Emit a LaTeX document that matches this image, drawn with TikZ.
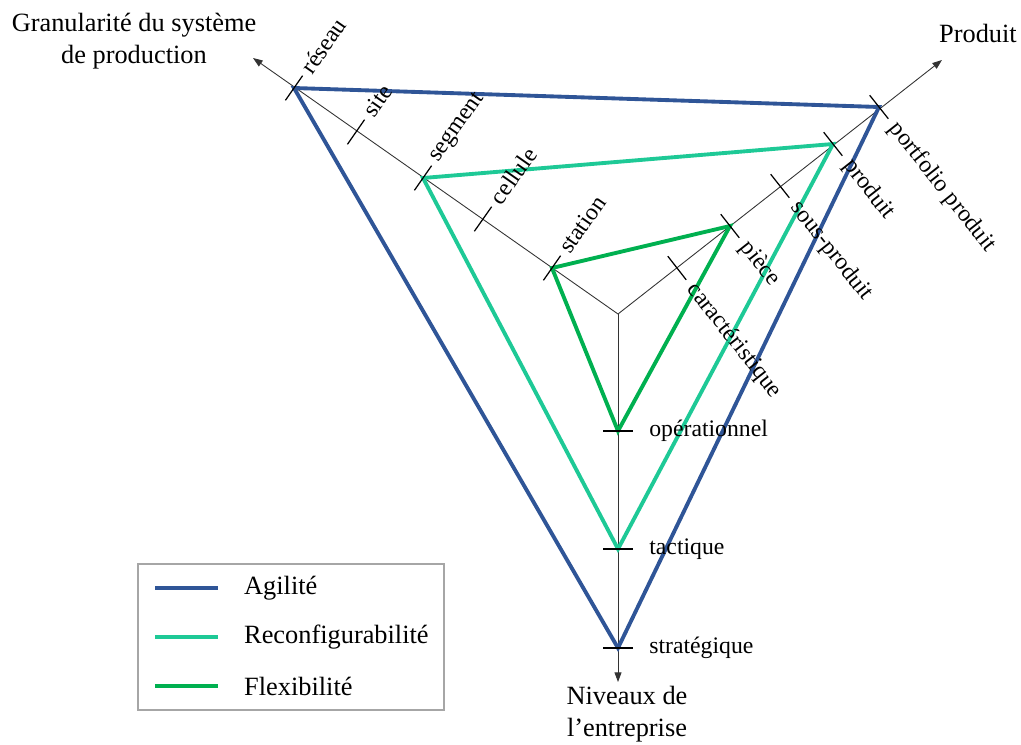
\documentclass[tikz,border=0pt]{standalone}
\usepackage{fontspec}
\setmainfont{Liberation Serif}
\usetikzlibrary{arrows.meta,calc}

\definecolor{agile}{RGB}{47,85,151}
\definecolor{reconf}{RGB}{30,201,150}
\definecolor{flex}{RGB}{0,176,80}

\tikzset{
	axe/.style={draw=black!80, line width=0.5pt, -{Triangle[length=5.5pt,width=4pt]}},
	graduation/.style={line width=0.7pt},
	niveau/.style={font=\fontsize{13.5}{16}\selectfont, inner sep=0pt},
	titre/.style={font=\fontsize{15}{18}\selectfont, align=center},
	profil/.style={line width=2.2pt},
}

\begin{document}
\begin{tikzpicture}[x=0.02cm, y=-0.02cm]
		\useasboundingbox (0,0) rectangle (1021,744);
		\coordinate (O) at (618,314);
		
		% axes
		\coordinate (granu) at (253,58);
		\coordinate (prod) at (942,60);
		\coordinate (niv) at (618,682);
		\draw[axe] (O) -- (granu);
		\draw[axe] (O) -- (prod);
		\draw[axe] (O) -- (niv);
		
		% graduations
		\coordinate (reseau) at (294,88);
		\coordinate (site) at (356,132);
		\coordinate (segment) at (423,178);
		\coordinate (cellule) at (483,219);
		\coordinate (station) at (552,268);
		\coordinate (portfolio) at (879,107);
		\coordinate (produit) at (833,144);
		\coordinate (sousproduit) at (780,186);
		\coordinate (piece) at (730,226);
		\coordinate (caract) at (677,268);
		\coordinate (operationnel) at (618,431);
		\coordinate (tactique) at (618,549);
		\coordinate (strategique) at (618,648);
		
		% profils
		\draw[profil, agile] (reseau) -- (portfolio) -- (strategique) -- cycle;
		\draw[profil, reconf] (segment) -- (produit) -- (tactique) -- cycle;
		\draw[profil, flex] (station) -- (piece) -- (operationnel) -- cycle;
		
		\foreach \t in {reseau,site,segment,cellule,station,portfolio,produit,sousproduit,piece,caract,operationnel,tactique,strategique}
			\draw[graduation] ($(\t)!0.3cm!90:(O)$) -- ($(\t)!0.3cm!-90:(O)$);
		
		\foreach \t/\txt in {reseau/réseau, site/site, segment/segment, cellule/cellule, station/station}
			\node[niveau, rotate=55, anchor=west] (l-\t) at ($(\t)!0.42cm!90:(O)$) {\txt};
		\foreach \t/\txt in {portfolio/portfolio produit, produit/produit, sousproduit/sous-produit, piece/pièce, caract/caractéristique}
			\node[niveau, rotate=-51.8, anchor=west] (l-\t) at ($(\t)!0.46cm!90:(O)$) {\txt};
		\foreach \t/\txt in {operationnel/opérationnel, tactique/tactique, strategique/stratégique}
			\node[niveau, anchor=west] (l-\t) at ($(\t)+(31,0)$) {\txt};
		
		% titres
		\node[titre] (t-granu) at (134,41) {Granularité du système\\de production};
		\node[titre] (t-prod) at (978,33) {Produit};
		\node[titre] (t-niv) at (627,714) {Niveaux de\\l’entreprise};
		
		% legende
		\draw[gray!70, line width=0.8pt] (138,564) rectangle (444,710);
		\foreach \y/\c/\txt in {588/agile/Agilité, 637/reconf/Reconfigurabilité, 686/flex/Flexibilité}{
			\draw[profil, \c] (155,\y) -- (218,\y);
			\node[titre, anchor=west] (leg-\c) at (238,\y) {\txt};
		}
\end{tikzpicture}
\end{document}
